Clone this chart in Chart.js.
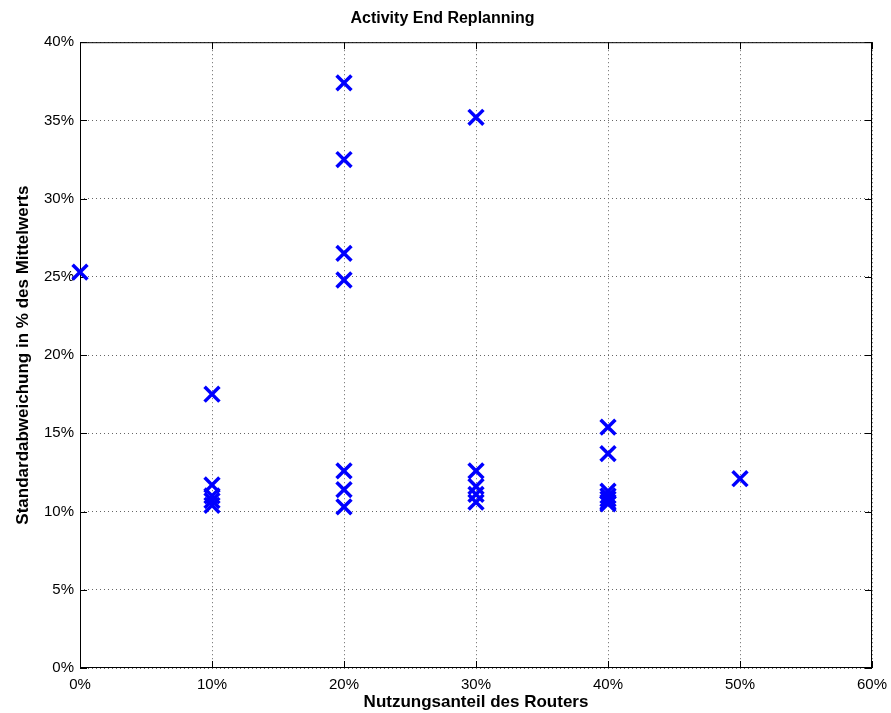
<!DOCTYPE html>
<html>
<head>
<meta charset="utf-8">
<script src="https://cdn.jsdelivr.net/npm/chart.js@4"></script>
<style>
  body { margin: 0; background: #fff; }
  #wrap { width: 891px; height: 713px; }
</style>
</head>
<body>
<div id="wrap"><canvas id="myChart" width="891" height="713"></canvas></div>
<script>
const usageShare = [0, 10, 10, 10, 10, 10, 20, 20, 20, 20, 20, 20, 20, 30, 30, 30, 30, 30, 40, 40, 40, 40, 40, 40, 40, 50];
const stdDeviation = [25.3, 17.5, 11.7, 11.0, 10.7, 10.4, 37.4, 32.5, 26.5, 24.8, 12.6, 11.4, 10.3, 35.2, 12.6, 11.6, 11.1, 10.6, 15.4, 13.7, 11.3, 11.0, 10.8, 10.6, 10.5, 12.1];
const xTicks = [0, 10, 20, 30, 40, 50, 60];
const yTicks = [0, 5, 10, 15, 20, 25, 30, 35, 40];

const points = usageShare.map((x, i) => ({ x: x, y: stdDeviation[i] }));

// black frame + small inward ticks like matlab
const framePlugin = {
    id: 'frame',
    beforeDatasetsDraw(chart) {
        const c = chart.ctx;
        const a = chart.chartArea;
        const xs = chart.scales.x, ys = chart.scales.y;
        c.save();
        c.strokeStyle = '#000';
        c.lineWidth = 1;
        c.strokeRect(a.left + 0.5, a.top + 0.5, a.right - a.left - 1, a.bottom - a.top - 1);
        c.beginPath();
        xTicks.forEach(t => {
            const px = Math.round(xs.getPixelForValue(t)) + 0.5;
            c.moveTo(px, a.bottom); c.lineTo(px, a.bottom - 7);
            c.moveTo(px, a.top); c.lineTo(px, a.top + 7);
        });
        yTicks.forEach(t => {
            const py = Math.round(ys.getPixelForValue(t)) + 0.5;
            c.moveTo(a.left, py); c.lineTo(a.left + 7, py);
            c.moveTo(a.right, py); c.lineTo(a.right - 7, py);
        });
        c.stroke();
        c.restore();
    }
};

const ctx = document.getElementById('myChart').getContext('2d');
Chart.defaults.font.family = '"Liberation Sans", Arial, sans-serif';
Chart.defaults.color = '#000';

const myChart = new Chart(ctx, {
    type: 'scatter',
    data: {
        datasets: [{
            data: points,
            pointStyle: 'crossRot',
            pointRadius: 10.5,
            pointHoverRadius: 10.5,
            borderColor: '#0000ff',
            backgroundColor: '#0000ff',
            pointBorderWidth: 3.5,
            clip: false
        }]
    },
    options: {
        responsive: false,
        animation: false,
        layout: { padding: { left: 13, right: 19, top: 9, bottom: 0 } },
        plugins: {
            legend: { display: false },
            tooltip: { enabled: false },
            title: {
                display: true,
                text: 'Activity End Replanning',
                font: { size: 16, weight: 'bold' },
                padding: { top: 0, bottom: 14 }
            }
        },
        scales: {
            x: {
                type: 'linear',
                min: 0, max: 60,
                afterBuildTicks: s => { s.ticks = xTicks.map(v => ({ value: v })); },
                ticks: {
                    callback: v => v + '%',
                    font: { size: 15 },
                    maxRotation: 0,
                    padding: 8
                },
                grid: { color: '#666', lineWidth: 1, tickLength: 0, drawTicks: false },
                border: { display: false, dash: [1, 3] },
                title: {
                    display: true,
                    text: 'Nutzungsanteil des Routers',
                    font: { size: 17, weight: 'bold' },
                    padding: { top: -4, bottom: 0 }
                },
                afterFit: s => { s.height = 45; s.paddingLeft = 0; s.paddingRight = 0; }
            },
            y: {
                type: 'linear',
                min: 0, max: 40,
                afterBuildTicks: s => { s.ticks = yTicks.map(v => ({ value: v })); },
                ticks: {
                    callback: v => v + '%',
                    font: { size: 15 },
                    padding: 6
                },
                grid: { color: '#666', lineWidth: 1, drawTicks: false },
                border: { display: false, dash: [1, 3] },
                title: {
                    display: true,
                    text: 'Standardabweichung in % des Mittelwerts',
                    font: { size: 17, weight: 'bold' },
                    padding: { top: 0, bottom: 4 }
                },
                afterFit: s => { s.width = 67; s.paddingTop = 0; s.paddingBottom = 0; }
            }
        }
    },
    plugins: [framePlugin]
});
</script>
</body>
</html>
